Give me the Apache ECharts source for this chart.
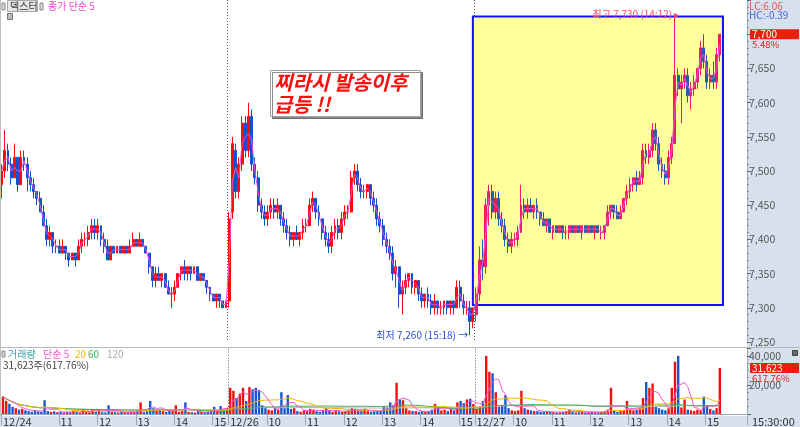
<!DOCTYPE html>
<html><head><meta charset="utf-8">
<script src="https://cdn.jsdelivr.net/npm/echarts@6/dist/echarts.min.js"></script>
<style>html,body{margin:0;padding:0;background:#fff}#c{width:800px;height:427px}</style>
</head><body><div id="c"></div><script>
// ---------- data ----------
const dayNames = ['12/24', '12/26', '12/27'];
const dayFirstTime = ['09:30', '09:00', '09:00'];
const padCount = 8;

// [open, high, low, close]
const ohlcDay1 = [
[7480,7510,7460,7500],[7500,7560,7490,7530],[7530,7540,7500,7510],[7510,7520,7480,7490],[7490,7540,7490,7520],
[7520,7520,7470,7480],[7480,7530,7480,7520],[7520,7530,7500,7510],[7510,7520,7470,7490],[7490,7500,7470,7480],
[7480,7490,7460,7470],[7470,7470,7450,7460],[7460,7470,7440,7440],[7440,7450,7420,7420],[7420,7430,7390,7400],
[7400,7420,7390,7410],[7410,7410,7380,7390],[7390,7400,7380,7390],[7390,7400,7380,7380],[7380,7400,7380,7390],
[7390,7390,7370,7380],[7380,7380,7360,7370],[7370,7380,7370,7380],[7380,7380,7360,7370],[7370,7400,7370,7390],
[7390,7410,7380,7400],[7400,7410,7390,7400],[7400,7420,7390,7410],[7410,7430,7400,7420],[7420,7430,7400,7410],
[7410,7430,7400,7420],[7420,7420,7390,7400],[7400,7410,7380,7390],[7390,7400,7370,7370],[7370,7390,7370,7390],
[7390,7390,7380,7380],[7380,7390,7380,7390],[7390,7390,7380,7380],[7380,7390,7380,7390],[7390,7390,7380,7380],
[7380,7400,7380,7390],[7390,7410,7390,7400],[7400,7400,7390,7390],[7390,7410,7390,7400],[7400,7400,7390,7390],
[7390,7390,7380,7380],[7380,7380,7350,7360],[7360,7360,7330,7340],[7340,7360,7330,7350],[7350,7360,7340,7340],
[7340,7350,7330,7350],[7350,7350,7330,7330],[7330,7340,7320,7320],[7320,7330,7300,7320],[7320,7340,7310,7330],
[7330,7350,7330,7350],[7350,7360,7340,7360],[7360,7370,7340,7350],[7350,7360,7340,7360],[7360,7360,7340,7350],
[7350,7360,7350,7360],[7360,7360,7340,7340],[7340,7350,7340,7350],[7350,7350,7340,7340],[7340,7340,7320,7330],
[7330,7330,7310,7320],[7320,7320,7310,7310],[7310,7320,7300,7320],[7320,7320,7300,7310],[7310,7310,7300,7300],
[7300,7310,7300,7310]
];
const ohlcDay2 = [
[7310,7440,7300,7430],[7440,7550,7430,7540],[7530,7540,7460,7470],[7470,7520,7460,7510],[7510,7580,7500,7570],
[7570,7580,7520,7530],[7530,7600,7520,7580],[7580,7590,7500,7510],[7510,7520,7480,7490],[7490,7500,7440,7450],
[7450,7460,7430,7440],[7440,7450,7420,7430],[7430,7450,7420,7440],[7440,7460,7430,7450],[7450,7460,7430,7440],
[7440,7460,7430,7450],[7450,7450,7420,7430],[7430,7440,7410,7420],[7420,7430,7400,7410],[7410,7420,7390,7400],
[7400,7410,7390,7410],[7410,7420,7400,7400],[7400,7410,7390,7410],[7410,7430,7400,7420],[7420,7430,7410,7420],
[7420,7460,7420,7450],[7450,7470,7440,7460],[7460,7460,7430,7440],[7440,7450,7420,7430],[7430,7430,7400,7410],
[7410,7420,7390,7400],[7400,7410,7380,7390],[7390,7420,7380,7410],[7410,7430,7400,7420],[7420,7430,7400,7410],
[7410,7440,7400,7430],[7430,7450,7420,7440],[7440,7450,7430,7440],[7440,7500,7440,7490],[7490,7510,7480,7500],
[7500,7510,7470,7480],[7480,7490,7460,7470],[7470,7480,7460,7470],[7470,7480,7460,7480],[7480,7480,7450,7460],
[7460,7470,7440,7450],[7450,7460,7420,7430],[7430,7440,7410,7420],[7420,7430,7390,7400],[7400,7410,7380,7390],
[7390,7400,7370,7380],[7380,7390,7340,7350],[7350,7370,7330,7360],[7360,7360,7300,7320],[7320,7340,7290,7330],
[7330,7350,7320,7340],[7340,7350,7330,7350],[7350,7350,7320,7330],[7330,7340,7320,7340],[7340,7340,7310,7320],
[7320,7330,7300,7310],[7310,7320,7300,7320],[7320,7330,7300,7310],[7310,7320,7290,7300],[7300,7320,7290,7310],
[7310,7310,7290,7300],[7300,7310,7290,7300],[7300,7310,7290,7310],[7310,7310,7290,7300],[7300,7310,7290,7310],
[7310,7310,7290,7300],[7300,7340,7300,7330],[7330,7340,7300,7310],[7310,7320,7290,7300],[7300,7310,7290,7300],
[7300,7310,7260,7280],[7280,7300,7270,7300]
];
const ohlcDay3 = [
[7290,7330,7280,7320],[7320,7390,7310,7370],[7370,7400,7340,7360],[7360,7460,7350,7450],[7450,7480,7420,7470],
[7470,7480,7430,7440],[7440,7470,7430,7460],[7460,7470,7420,7430],[7430,7440,7410,7420],[7420,7430,7390,7400],
[7400,7410,7380,7390],[7390,7410,7380,7400],[7400,7410,7390,7400],[7400,7420,7390,7410],[7410,7480,7410,7450],
[7450,7460,7430,7440],[7440,7460,7430,7450],[7450,7460,7440,7440],[7440,7450,7430,7450],[7450,7460,7430,7440],
[7440,7440,7420,7430],[7430,7440,7420,7420],[7420,7430,7410,7430],[7430,7430,7410,7410],[7410,7420,7400,7420],
[7420,7420,7410,7410],[7410,7420,7410,7420],[7420,7420,7400,7410],[7410,7420,7400,7410],[7410,7420,7400,7420],
[7420,7420,7410,7410],[7410,7420,7410,7420],[7420,7420,7410,7410],[7410,7420,7400,7420],[7420,7420,7410,7410],
[7410,7420,7410,7420],[7420,7420,7410,7410],[7410,7420,7400,7420],[7420,7420,7410,7410],[7410,7420,7400,7410],
[7410,7420,7400,7420],[7420,7450,7420,7440],[7440,7450,7430,7450],[7450,7450,7430,7440],[7440,7450,7430,7430],
[7430,7450,7430,7440],[7440,7460,7440,7460],[7460,7480,7450,7470],[7470,7490,7460,7480],[7480,7490,7470,7490],
[7490,7500,7470,7480],[7480,7500,7480,7490],[7490,7540,7480,7530],[7530,7540,7510,7520],[7520,7540,7510,7530],
[7530,7570,7520,7560],[7560,7570,7530,7540],[7540,7550,7500,7510],[7510,7520,7490,7500],[7500,7510,7480,7490],
[7490,7530,7480,7520],[7520,7550,7510,7540],[7540,7730,7540,7640],[7640,7650,7610,7620],[7620,7640,7570,7630],
[7630,7650,7620,7640],[7640,7650,7600,7610],[7610,7630,7590,7620],[7620,7640,7610,7630],[7630,7650,7620,7650],
[7650,7690,7640,7680],[7680,7700,7650,7660],[7660,7670,7620,7630],[7630,7650,7620,7640],[7640,7660,7620,7630],
[7630,7680,7620,7670],[7670,7700,7660,7700]
];

const volDay1 = [12000,9000,7000,5000,4000,3000,3500,2500,2000,1500,
2500,1800,1500,9500,2000,1500,1800,1200,1500,1000,
1500,1200,2000,1500,1000,3500,1500,1200,3500,1500,
3000,1200,1000,6000,1500,1200,1000,1500,1200,1000,
1500,1200,2500,8000,1500,2000,9000,4000,2500,3000,
2000,1500,2500,2000,6000,1500,2000,8000,1500,1200,
1000,2000,1500,1200,1500,2000,5000,2000,5500,3000,
4000];
const volDay2 = [18000,16000,11000,14000,18000,9000,18500,17000,18000,16500,
6000,4000,3000,2500,4000,3000,15000,4000,13000,3500,
4000,2000,1500,2500,2000,3500,3000,2000,1500,2000,
4000,2500,1500,2000,1800,1500,2000,2500,4000,3500,
2500,2000,3500,2000,1500,1800,2000,2500,5000,4500,
8000,6000,21500,10000,9500,4000,2500,2000,2000,1500,
2000,1500,2000,3000,7000,5000,2500,3000,2000,3500,
2500,8000,9000,7500,10000,10500,7000];
const volDay3 = [3500,5000,9000,40000,29000,28000,15000,5000,6000,13000,
4000,2500,2000,2500,16000,4000,3000,2500,2000,2000,
1500,1500,1800,1500,1200,1000,1200,1500,1800,3000,
1500,1000,1200,1500,1000,1200,1500,1000,1200,1500,
2000,3000,18000,2500,1500,2000,2500,9000,3000,2500,
3000,4000,11000,22000,18000,21000,5000,4000,3000,2500,
4000,18000,36000,40000,4500,10000,3000,2500,2000,3000,
2500,12000,6000,3500,2500,4000,31623];

const priceMaPeriod = 2;
const volMaPeriods = [5, 20, 60, 120];
const volMaColors = ['#ee55cc', '#f4b400', '#3cb050', '#b4b4b4'];

const highInfo = { idx: 210, value: 7730, text: '최고 7,730 (14:12) ▸' };
const lowInfo = { idx: 146, value: 7260, text: '최저 7,260 (15:18) →' };
const boxRange = { from: 147, to: 225, low: 7304, high: 7726 };
const lastPrice = 7700, lastPct = '5.48%';
const lastVol = 31623, lastVolPct = '617.76%';

// ---------- build ----------
const ohlcDays = [ohlcDay1, ohlcDay2, ohlcDay3];
const cats = [], catLabel = {}, dayStart = [];
function toMin(t){const [h,m]=t.split(':').map(Number);return h*60+m;}
function fmtT(m){return String(Math.floor(m/60)).padStart(2,'0')+':'+String(m%60).padStart(2,'0');}
ohlcDays.forEach((bars, d) => {
  dayStart.push(cats.length);
  const m0 = toMin(dayFirstTime[d]);
  bars.forEach((b, k) => {
    const t = (k === bars.length - 1) ? '15:30' : fmtT(m0 + 5 * k);
    const key = dayNames[d] + ' ' + t;
    cats.push(key);
    if (k === 0) catLabel[key] = dayNames[d];
    else if (t.endsWith(':00') && k >= 8) catLabel[key] = String(parseInt(t, 10));
  });
});
for (let p = 0; p < padCount; p++) cats.push('pad' + p);
const labelIdx = new Set(cats.map((c, i) => catLabel[c] ? i : -1).filter(i => i >= 0));

const allBars = [].concat(ohlcDay1, ohlcDay2, ohlcDay3);
const closes = allBars.map(b => b[3]);
const vols = [].concat(volDay1, volDay2, volDay3);
const N = allBars.length;
const d3 = dayStart[2];

const toCandle = b => [b[0], b[3], b[2], b[1]];
const candleA = cats.map((c, i) => (i < d3 && i < N) ? toCandle(allBars[i]) : '-');
const candleB = cats.map((c, i) => (i >= d3 && i < N) ? toCandle(allBars[i]) : '-');
function sma(arr, p){return arr.map((v,i)=>{const s=Math.max(0,i-p+1);let t=0;for(let j=s;j<=i;j++)t+=arr[j];return +(t/(i-s+1)).toFixed(2);});}
const priceMa = sma(closes, priceMaPeriod);
const volBars = vols.map((v, i) => ({ value: v, itemStyle: { color: allBars[i][3] >= allBars[i][0] ? '#f01010' : '#1a56cc' } }));

const FONT = '"Noto Sans CJK KR","Noto Sans",sans-serif';
const fmtNum = v => Number(v).toLocaleString('en-US');
const split = { show: true, interval: (i) => dayStart.includes(i) && i > 0, lineStyle: { color: '#555', type: [1, 2], width: 1 } };
const hiddenLine = { color: 'rgba(0,0,0,0)', width: 0 };
const tagRich = {
  sp: { fontSize: 9, lineHeight: 9 },
  box: { fontSize: 10, lineHeight: 11, color: '#fff', backgroundColor: '#e8200c', width: 45, padding: [0, 2], fontFamily: FONT },
  pct: { fontSize: 9.5, lineHeight: 9, color: '#e02020', padding: [0, 2], fontFamily: FONT }
};

const chart = echarts.init(document.getElementById('c'), null, { renderer: 'canvas' });
const option = {
  animation: false,
  backgroundColor: '#ffffff',
  textStyle: { fontFamily: FONT },
  grid: [
    { left: 0, right: 53, top: 0, height: 342 },
    { left: 0, right: 53, top: 348.6, height: 66.9 }
  ],
  xAxis: [
    { type: 'category', gridIndex: 0, data: cats, axisLine: { show: false }, axisTick: { show: false }, axisLabel: { show: false }, splitLine: split },
    { type: 'category', gridIndex: 1, data: cats,
      axisLine: { show: true, lineStyle: { color: '#9aa6b4' } },
      axisTick: { show: true, interval: (i) => labelIdx.has(i), length: 11, lineStyle: { color: '#9aa6b4' } },
      axisLabel: { interval: (i) => labelIdx.has(i), formatter: (v) => catLabel[v] || '', align: 'left', margin: 2, fontSize: 11, color: '#333', fontFamily: FONT },
      splitLine: split }
  ],
  yAxis: [
    { type: 'value', gridIndex: 0, position: 'right', min: 7250, max: 7750, interval: 50,
      axisLine: { show: true, lineStyle: { color: '#a0aab6' } },
      axisTick: { show: true, length: 4, lineStyle: { color: '#666' } },
      minorTick: { show: true, splitNumber: 5, length: 2, lineStyle: { color: '#888' } },
      splitLine: { show: false },
      axisLabel: { margin: 2, fontSize: 10.5, color: '#555', fontFamily: FONT, formatter: v => (v >= 7700) ? '' : fmtNum(v) } },
    { type: 'value', gridIndex: 1, position: 'right', min: 0, max: 45000, interval: 20000,
      axisLine: { show: true, lineStyle: { color: '#a0aab6' } },
      axisTick: { show: true, length: 4, lineStyle: { color: '#666' } },
      minorTick: { show: true, splitNumber: 4, length: 2, lineStyle: { color: '#888' } },
      splitLine: { show: false },
      axisLabel: { margin: 2, fontSize: 10.5, color: '#555', fontFamily: FONT, showMaxLabel: false, formatter: v => (v === 20000 || v === 40000) ? fmtNum(v) : '' } }
  ],
  series: [
    { name: 'box', type: 'line', xAxisIndex: 0, yAxisIndex: 0, data: [], z: 1, silent: true,
      markArea: { silent: true, itemStyle: { color: '#ffff9c', borderColor: '#1010ff', borderWidth: 2 },
        data: [[{ xAxis: cats[boxRange.from], yAxis: boxRange.low }, { xAxis: cats[boxRange.to], yAxis: boxRange.high }]] } },
    { name: 'candleA', type: 'candlestick', xAxisIndex: 0, yAxisIndex: 0, data: candleA, z: 3, barWidth: '75%',
      itemStyle: { color: '#ff0a0a', color0: '#1450cc', borderColor: '#ff0a0a', borderColor0: '#1450cc', borderColorDoji: '#ff0a0a', borderWidth: 1 },
      markPoint: { symbol: 'circle', symbolSize: 1, itemStyle: { color: 'rgba(0,0,0,0)' },
        label: { show: true, position: 'left', distance: 1, color: '#2a50d8', fontSize: 10, fontFamily: FONT, formatter: () => lowInfo.text },
        data: [{ coord: [cats[lowInfo.idx], lowInfo.value] }] } },
    { name: 'candleB', type: 'candlestick', xAxisIndex: 0, yAxisIndex: 0, data: candleB, z: 3, barWidth: '75%',
      itemStyle: { color: '#ee1a6a', color0: '#2060a8', borderColor: '#ee1a6a', borderColor0: '#2060a8', borderColorDoji: '#ee1a6a', borderWidth: 1 },
      markPoint: { symbol: 'circle', symbolSize: 1, itemStyle: { color: 'rgba(0,0,0,0)' },
        label: { show: true, position: 'left', distance: 0, offset: [5, 1], color: '#ff4466', fontSize: 10, fontFamily: FONT, formatter: () => highInfo.text },
        data: [{ coord: [cats[highInfo.idx], highInfo.value] }] },
      markLine: { silent: true, symbol: 'none', lineStyle: hiddenLine,
        label: { show: true, position: 'end', distance: 3, formatter: '{sp| }\n{box|' + fmtNum(lastPrice) + '}\n{pct|' + lastPct + '}', rich: tagRich },
        data: [{ yAxis: lastPrice }] } },
    { name: 'ma', type: 'line', xAxisIndex: 0, yAxisIndex: 0, data: priceMa, z: 4, symbol: 'none', silent: true,
      lineStyle: { color: '#f050d8', width: 1 } },
    { name: 'vol', type: 'bar', xAxisIndex: 1, yAxisIndex: 1, data: volBars, barWidth: '75%', z: 2,
      markLine: { silent: true, symbol: 'none', lineStyle: hiddenLine,
        label: { show: true, position: 'end', distance: 3, formatter: '{sp| }\n{box|' + fmtNum(lastVol) + '}\n{pct|' + lastVolPct + '}', rich: tagRich },
        data: [{ yAxis: lastVol }] } }
  ].concat(volMaPeriods.map((p, k) => ({
    name: 'vma' + p, type: 'line', xAxisIndex: 1, yAxisIndex: 1, data: sma(vols, p), symbol: 'none', silent: true, z: 3 - k * 0.1,
    lineStyle: { color: volMaColors[k], width: 1 }
  }))),
  graphic: { elements: [
    { type: 'rect', z: -10, silent: true, shape: { x: 747, y: 0, width: 53, height: 427 }, style: { fill: '#d7e1ed' } },
    { type: 'rect', z: -10, silent: true, shape: { x: 0, y: 416, width: 800, height: 11 }, style: { fill: '#d7e1ed' } },
    { type: 'line', z: 50, silent: true, shape: { x1: 0, y1: 347.5, x2: 800, y2: 347.5 }, style: { stroke: '#b8b8b8', lineWidth: 1 } },
    { type: 'line', z: 50, silent: true, shape: { x1: 0.5, y1: 0, x2: 0.5, y2: 416 }, style: { stroke: '#c0c0c0', lineWidth: 1 } },
    // top-left legend
    { type: 'rect', z: 50, shape: { x: 2, y: 3, width: 3, height: 7 }, style: { fill: '#ddd', stroke: '#888', lineWidth: 1 } },
    { type: 'rect', z: 50, shape: { x: 7.5, y: 0.5, width: 30, height: 11 }, style: { fill: '#e6e6e6', stroke: '#aaa', lineWidth: 1 } },
    { type: 'text', z: 51, style: { x: 10, y: 6, text: '덱스터', fill: '#333', font: '10px ' + FONT, verticalAlign: 'middle' } },
    { type: 'rect', z: 50, shape: { x: 40, y: 3, width: 3, height: 7 }, style: { fill: '#ddd', stroke: '#888', lineWidth: 1 } },
    { type: 'text', z: 51, style: { x: 48, y: 6, text: '종가 단순 5', fill: '#ee44cc', font: '10px ' + FONT, verticalAlign: 'middle' } },
    { type: 'rect', z: 50, shape: { x: 7.5, y: 13.5, width: 5, height: 6 }, style: { fill: '#bbb', stroke: '#777', lineWidth: 1 } },
    // volume legend
    { type: 'rect', z: 50, shape: { x: 2, y: 351, width: 3, height: 6 }, style: { fill: '#ddd', stroke: '#888', lineWidth: 1 } },
    { type: 'text', z: 51, style: { x: 8, y: 354.5, text: '거래량', fill: '#3aa6a6', font: '10px ' + FONT, verticalAlign: 'middle' } },
    { type: 'text', z: 51, style: { x: 43, y: 354.5, text: '단순 5', fill: '#ee55cc', font: '10px ' + FONT, verticalAlign: 'middle' } },
    { type: 'text', z: 51, style: { x: 75, y: 354.5, text: '20', fill: '#f4b400', font: '10px ' + FONT, verticalAlign: 'middle' } },
    { type: 'text', z: 51, style: { x: 88, y: 354.5, text: '60', fill: '#3cb050', font: '10px ' + FONT, verticalAlign: 'middle' } },
    { type: 'text', z: 51, style: { x: 107, y: 354.5, text: '120', fill: '#aaaaaa', font: '10px ' + FONT, verticalAlign: 'middle' } },
    { type: 'text', z: 51, style: { x: 3, y: 365.5, text: '31,623주(617.76%)', fill: '#444', font: '10px ' + FONT, verticalAlign: 'middle' } },
    // right panel texts
    { type: 'text', z: 51, style: { x: 749, y: 6, text: 'LC:6.06', fill: '#e05a5a', font: '10px ' + FONT, verticalAlign: 'middle' } },
    { type: 'text', z: 51, style: { x: 749, y: 15, text: 'HC:-0.39', fill: '#4466e0', font: '10px ' + FONT, verticalAlign: 'middle' } },
    { type: 'rect', z: 50, shape: { x: 792.5, y: 350.5, width: 5, height: 5 }, style: { fill: '#666', stroke: '#444', lineWidth: 1 } },
    { type: 'text', z: 51, style: { x: 752, y: 422, text: '15:30:00', fill: '#333', font: '11px ' + FONT, verticalAlign: 'middle' } },
    // annotation box
    { type: 'rect', z: 60, shape: { x: 270.5, y: 70.5, width: 150, height: 46 },
      style: { fill: '#fff', stroke: '#a0a0a0', lineWidth: 1, shadowColor: 'rgba(0,0,0,0.45)', shadowOffsetX: 2, shadowOffsetY: 2, shadowBlur: 0 } },
    { type: 'text', z: 61, style: { x: 274, y: 82, text: '찌라시 발송이후', fill: '#ff0d0d', font: 'italic bold 20px ' + FONT, verticalAlign: 'middle' } },
    { type: 'text', z: 61, style: { x: 274, y: 104, text: '급등 !!', fill: '#ff0d0d', font: 'italic bold 20px ' + FONT, verticalAlign: 'middle' } }
  ] }
};
chart.setOption(option);
</script></body></html>
